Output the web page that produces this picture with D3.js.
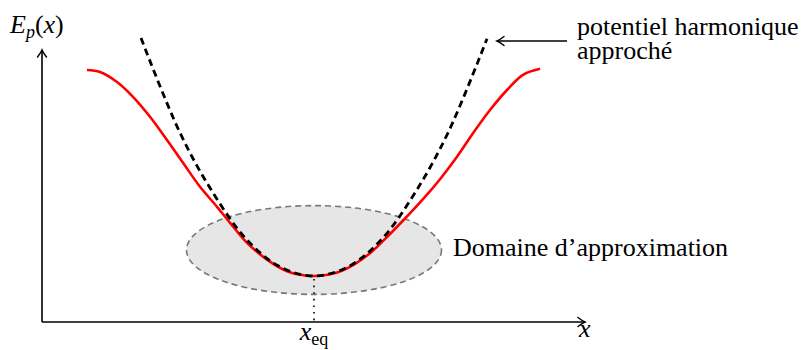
<!DOCTYPE html>
<html>
<head>
<meta charset="utf-8">
<script src="https://cdn.jsdelivr.net/npm/d3@7"></script>
</head>
<body style="margin:0">
<script>
// potentiel reel (courbe rouge)
const potX = [-4.54, -4.28, -3.94, -3.62, -3.28, -2.94, -2.62, -2.28, -1.94, -1.68, -1.34, -0.94, -0.54, -0.27, 0,
  0.27, 0.58, 1.12, 1.52, 1.86, 2.18, 2.52, 2.86, 3.18, 3.52, 3.86, 4.18, 4.52];
const potE = [6.30, 6.25, 6.00, 5.63, 5.13, 4.55, 3.98, 3.38, 2.88, 2.48, 1.98, 1.56, 1.27, 1.18, 1.15,
  1.18, 1.29, 1.72, 2.20, 2.64, 3.07, 3.57, 4.13, 4.72, 5.30, 5.80, 6.18, 6.33];
// potentiel harmonique approche (tirets)
const harmX = [-3.46, -2.68, -2.02, -1.34, -0.68, 0, 0.68, 1.34, 2.02, 2.68, 3.46];
const harmE = [7.10, 4.73, 3.23, 2.05, 1.38, 1.15, 1.38, 2.05, 3.23, 4.73, 7.08];
// domaine d'approximation : centre et demi-axes
const domain = { cx: 0, cy: 1.8, rx: 2.55, ry: 1.11 };
const xEq = 0;
const axisX = [-5.44, 5.42];
const axisE = [0, 6.8];
const labels = ["potentiel harmonique", "approch\u00e9", "Domaine d\u2019approximation"];

const width = 806, height = 350;
const fontStack = "Times New Roman";

const svg = d3.select("body")
  .append("svg")
  .attr("width", width)
  .attr("height", height)
  .attr("font-family", fontStack);

const x = d3.scaleLinear().domain([0, 1]).range([314, 364]);
const y = d3.scaleLinear().domain([0, 1]).range([322, 282]);

// ellipse
svg.append("ellipse")
  .attr("cx", x(domain.cx))
  .attr("cy", y(domain.cy))
  .attr("rx", x(domain.rx) - x(0))
  .attr("ry", y(0) - y(domain.ry))
  .attr("fill", "#e6e6e6")
  .attr("stroke", "#777")
  .attr("stroke-width", 1.6)
  .attr("stroke-dasharray", "6,4");

// fleche style LaTeX
function arrowHead(g, tx, ty, angle) {
  g.append("path")
    .attr("d", "M-7,-4.5 Q-2.5,-1 0,0 Q-2.5,1 -7,4.5")
    .attr("transform", `translate(${tx},${ty}) rotate(${angle})`)
    .attr("fill", "none")
    .attr("stroke", "#000")
    .attr("stroke-width", 1.5)
    .attr("stroke-linecap", "round");
}

// axes
const axes = svg.append("g");
axes.append("line")
  .attr("x1", x(axisX[0])).attr("y1", y(0))
  .attr("x2", x(axisX[1]) - 1).attr("y2", y(0))
  .attr("stroke", "#000").attr("stroke-width", 1.6);
arrowHead(axes, x(axisX[1]), y(0), 0);
axes.append("line")
  .attr("x1", x(axisX[0])).attr("y1", y(0))
  .attr("x2", x(axisX[0])).attr("y2", y(axisE[1]) + 1)
  .attr("stroke", "#000").attr("stroke-width", 1.6);
arrowHead(axes, x(axisX[0]), y(axisE[1]), -90);

// pointilles x_eq
const eMin = d3.min(potE);
svg.append("line")
  .attr("x1", x(xEq)).attr("y1", y(eMin) + 3)
  .attr("x2", x(xEq)).attr("y2", y(0))
  .attr("stroke", "#000")
  .attr("stroke-width", 1.6)
  .attr("stroke-dasharray", "1.6,5");

const line = d3.line()
  .x((d) => x(d[0]))
  .y((d) => y(d[1]))
  .curve(d3.curveCatmullRom.alpha(0.5));

svg.append("path")
  .datum(d3.zip(potX, potE))
  .attr("d", line)
  .attr("fill", "none")
  .attr("stroke", "#ff0000")
  .attr("stroke-width", 2.6);

svg.append("path")
  .datum(d3.zip(harmX, harmE))
  .attr("d", line)
  .attr("fill", "none")
  .attr("stroke", "#000")
  .attr("stroke-width", 2.8)
  .attr("stroke-dasharray", "7,4.5");

// annotation
svg.append("line")
  .attr("x1", 567).attr("y1", 41)
  .attr("x2", 498).attr("y2", 41)
  .attr("stroke", "#000").attr("stroke-width", 1.5);
arrowHead(svg, 497, 41, 180);

const labelPos = [[577, 35], [577, 59], [453, 256]];
svg.selectAll("text.lbl")
  .data(labels)
  .join("text")
  .attr("class", "lbl")
  .attr("x", (d, i) => labelPos[i][0])
  .attr("y", (d, i) => labelPos[i][1])
  .attr("font-family", fontStack)
  .attr("font-size", 26)
  .text((d) => d);

function label(px, py) {
  return svg.append("text")
    .attr("x", px).attr("y", py)
    .attr("font-family", fontStack)
    .attr("font-size", 26);
}

// E_p(x)
const ep = label(10, 33);
ep.append("tspan").attr("font-style", "italic").text("E");
ep.append("tspan").attr("font-style", "italic").attr("font-size", 18).attr("dy", 5).text("p");
ep.append("tspan").attr("dy", -5).text("(");
ep.append("tspan").attr("font-style", "italic").text("x");
ep.append("tspan").text(")");

label(579, 337).attr("font-style", "italic").text("x");

const xeq = label(x(xEq), 340).attr("text-anchor", "middle");
xeq.append("tspan").attr("font-style", "italic").text("x");
xeq.append("tspan").attr("font-size", 18).attr("dy", 5).text("eq");

// reapplique la police une fois les polices pretes
if (document.fonts && document.fonts.ready) {
  document.fonts.ready.then(() => {
    svg.selectAll("text").attr("font-family", fontStack);
  });
}
</script>
</body>
</html>
